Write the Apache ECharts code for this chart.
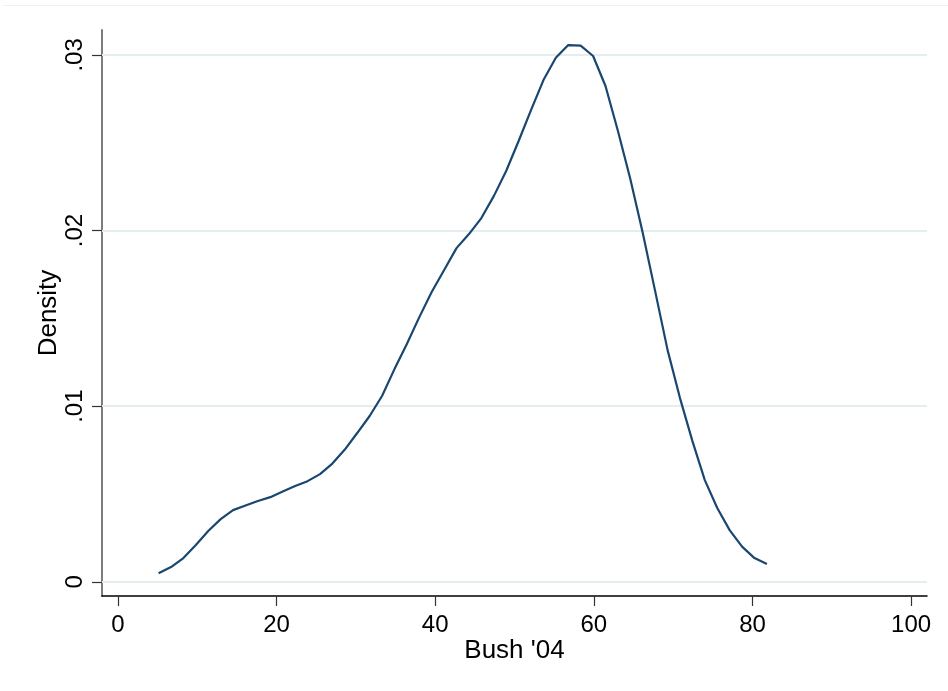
<!DOCTYPE html>
<html>
<head>
<meta charset="utf-8">
<script src="https://cdn.jsdelivr.net/npm/echarts@6/dist/echarts.min.js"></script>
<style>
html,body{margin:0;padding:0;background:#fff;}
#chart{width:948px;height:691px;}
</style>
</head>
<body>
<div id="chart"></div>
<script>
// Kernel density of Bush '04 vote share
var bushX = [5.13, 6.70, 8.26, 9.83, 11.39, 12.96, 14.52, 16.09, 17.65, 19.22,
  20.78, 22.35, 23.91, 25.48, 27.04, 28.61, 30.17, 31.74, 33.30, 34.87,
  36.43, 38.00, 39.56, 41.13, 42.69, 44.26, 45.82, 47.39, 48.95, 50.52,
  52.08, 53.65, 55.21, 56.78, 58.34, 59.91, 61.47, 63.04, 64.60, 66.17,
  67.73, 69.30, 70.86, 72.43, 73.99, 75.56, 77.12, 78.69, 80.25, 81.82];
var densityY = [0.00048, 0.00084, 0.00135, 0.00209, 0.00289, 0.00357, 0.00408, 0.00434, 0.00460, 0.00482,
  0.00514, 0.00545, 0.00573, 0.00613, 0.00673, 0.00753, 0.00847, 0.00944, 0.01058, 0.01211,
  0.01354, 0.01507, 0.01650, 0.01775, 0.01900, 0.01980, 0.02071, 0.02196, 0.02339, 0.02510,
  0.02686, 0.02857, 0.02984, 0.03056, 0.03053, 0.02994, 0.02823, 0.02567, 0.02293, 0.01986,
  0.01655, 0.01319, 0.01046, 0.00801, 0.00579, 0.00420, 0.00294, 0.00200, 0.00135, 0.00101];
var xTicks = [0, 20, 40, 60, 80, 100];
var yTicks = [0, 0.01, 0.02, 0.03];
var xTitle = "Bush '04";
var yTitle = "Density";

var pts = bushX.map(function (x, i) { return [x, densityY[i]]; });
var FONT = 'Liberation Sans, Arial, sans-serif';

var chart = echarts.init(document.getElementById('chart'), null, {renderer: 'canvas'});
chart.setOption({
  animation: false,
  backgroundColor: '#ffffff',
  graphic: [{
    type: 'line', shape: {x1: 3, y1: 5.5, x2: 948, y2: 5.5},
    style: {stroke: '#eef1f3', lineWidth: 1}, silent: true
  }],
  grid: {left: 102, right: 21, top: 30, bottom: 95, containLabel: false},
  xAxis: {
    type: 'value', min: -2, max: 102,
    name: xTitle, nameLocation: 'middle', nameGap: 42, nameMoveOverlap: false,
    nameTextStyle: {fontFamily: FONT, fontSize: 26, color: '#000'},
    axisLine: {show: true, onZero: false, lineStyle: {color: '#000', width: 1.5}},
    axisTick: {show: true, customValues: xTicks, length: 10, lineStyle: {color: '#333', width: 1.2}},
    axisLabel: {customValues: xTicks, fontFamily: FONT, fontSize: 24, color: '#000', margin: 17},
    splitLine: {show: false}
  },
  yAxis: {
    type: 'value', min: -0.00081, max: 0.03142,
    name: yTitle, nameLocation: 'middle', nameGap: 40, nameRotate: 90, nameMoveOverlap: false,
    nameTextStyle: {fontFamily: FONT, fontSize: 26, color: '#000'},
    axisLine: {show: true, onZero: false, lineStyle: {color: '#6f6f6f', width: 1.8}},
    axisTick: {show: true, customValues: yTicks, length: 10, lineStyle: {color: '#333', width: 1.2}},
    axisLabel: {
      customValues: yTicks, rotate: 90, fontFamily: FONT, fontSize: 24, color: '#000', margin: 15,
      formatter: function (v) {
        if (Math.abs(v) < 1e-9) return '0';
        return v.toFixed(2).replace(/^0/, '');
      }
    },
    splitLine: {show: false}
  },
  series: [{
    type: 'line',
    data: [],
    silent: true,
    z: 1,
    markLine: {
      silent: true, symbol: 'none', label: {show: false},
      lineStyle: {color: '#e4eef0', width: 2, type: 'solid'},
      data: yTicks.map(function (v) { return {yAxis: v}; })
    }
  }, {
    type: 'line',
    data: pts,
    showSymbol: false,
    symbol: 'none',
    smooth: false,
    lineStyle: {color: '#1a476f', width: 2.2},
    z: 5
  }]
});
</script>
</body>
</html>
